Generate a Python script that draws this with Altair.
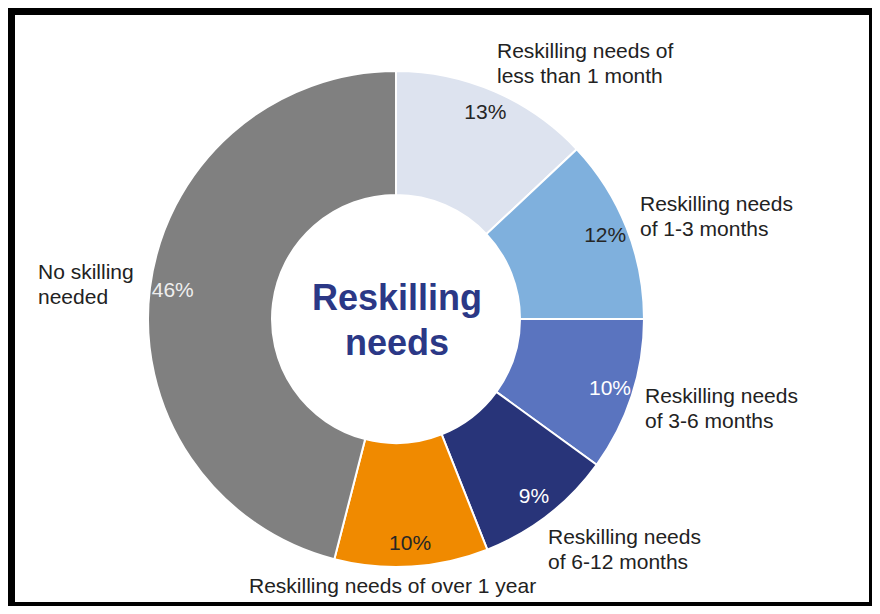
import math
import altair as alt
import pandas as pd

# ---- data ----
categories = [
    "Reskilling needs of less than 1 month",
    "Reskilling needs of 1-3 months",
    "Reskilling needs of 3-6 months",
    "Reskilling needs of 6-12 months",
    "Reskilling needs of over 1 year",
    "No skilling needed",
]
label_texts = [
    "Reskilling needs of\nless than 1 month",
    "Reskilling needs\nof 1-3 months",
    "Reskilling needs\nof 3-6 months",
    "Reskilling needs\nof 6-12 months",
    "Reskilling needs of over 1 year",
    "No skilling\nneeded",
]
shares = [13, 12, 10, 9, 10, 46]
colors = ["#dde3ef", "#7fb0dd", "#5a74bf", "#283479", "#f08a00", "#808080"]
pct_colors = ["#262626", "#262626", "#ffffff", "#ffffff", "#262626", "#eeeeee"]
center_title = "Reskilling\nneeds"

df = pd.DataFrame({
    "category": categories,
    "label": label_texts,
    "value": shares,
    "order": list(range(len(categories))),
    "pct": [f"{v}%" for v in shares],
})

W, H = 864, 598
CX, CY = 388, 311
R_OUT, R_IN = 248, 124
FONT = "Liberation Sans"

theta_scale = alt.Scale(domain=[0, 100], range=[0, 2 * math.pi])

base = alt.Chart(df).transform_window(
    cum="sum(value)", sort=[alt.SortField("order")]
).transform_calculate(
    start="datum.cum - datum.value",
    mid="datum.cum - datum.value / 2",
)

arcs = base.mark_arc(radius=R_OUT, radius2=R_IN, stroke="white", strokeWidth=2).encode(
    theta=alt.Theta("start:Q", scale=theta_scale),
    theta2="cum:Q",
    color=alt.Color("category:N", scale=alt.Scale(domain=categories, range=colors), legend=None),
    x=alt.value(CX),
    y=alt.value(CY),
)

pcts = base.mark_text(radius=225, fontSize=21, font=FONT, align="center", baseline="middle").encode(
    theta=alt.Theta("mid:Q", scale=theta_scale),
    text="pct:N",
    fill=alt.Fill("category:N", scale=alt.Scale(domain=categories, range=pct_colors), legend=None),
    x=alt.value(CX),
    y=alt.value(CY),
)

# label anchor (left x, first baseline y) in chart pixels
label_pos = [
    (489, 50),
    (632, 203),
    (637, 395),
    (540, 536),
    (241, 585),
    (30, 271),
]

layers = [arcs, pcts]
for cat, (lx, ly) in zip(categories, label_pos):
    layers.append(
        alt.Chart(df).transform_filter(alt.datum.category == cat).mark_text(
            fontSize=21, font=FONT, align="left", baseline="alphabetic",
            lineBreak="\n", lineHeight=25, color="#222222",
        ).encode(text="label:N", x=alt.value(lx), y=alt.value(ly))
    )

title_df = pd.DataFrame({"t": [center_title]})
center = alt.Chart(title_df).mark_text(
    fontSize=36, fontWeight="bold", font=FONT, align="center", baseline="alphabetic",
    lineBreak="\n", lineHeight=45, color="#2b3886",
).encode(text="t:N", x=alt.value(CX + 1), y=alt.value(302))
layers.append(center)

frame_df = pd.DataFrame({"a": [0]})
def bar(x1, x2, y1, y2):
    return alt.Chart(frame_df).mark_rect(color="black").encode(
        x=alt.value(x1), x2=alt.value(x2), y=alt.value(y1), y2=alt.value(y2)
    )
layers += [bar(0, 7, 0, H), bar(0, W, 0, 7), bar(W - 3, W, 0, H), bar(0, W, H - 4, H)]

chart = alt.layer(*layers).resolve_scale(color="independent", fill="independent").properties(
    width=W, height=H, padding=0, autosize=alt.AutoSizeParams(type="none"),
    background="white",
).configure_view(stroke=None)

chart.save("out.html", embed_options={"renderer": "svg", "actions": False})
